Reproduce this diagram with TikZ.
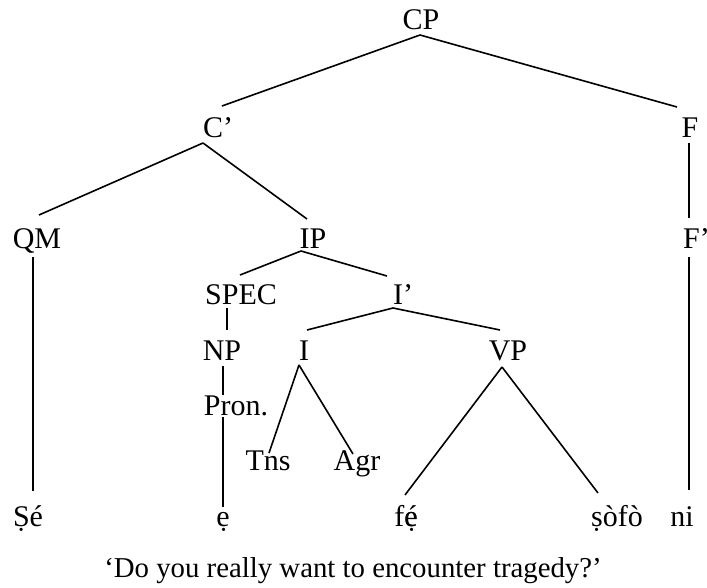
\documentclass[tikz,border=0pt]{standalone}
\usepackage{fontspec}
\setmainfont{Liberation Serif}
\usetikzlibrary{calc}
% e with both an acute and a dot below, built by overlaying é and ẹ
\newcommand{\eacdot}{\ooalign{ẹ\cr é\cr}}
\tikzset{
  lbl/.style={anchor=base, inner sep=0pt, font=\fontsize{30}{36}\selectfont},
  glosstext/.style={anchor=base, inner sep=0pt, font=\fontsize{28.8}{35}\selectfont},
  branch/.style={line width=1.6pt, line cap=butt}
}
\begin{document}
\begin{tikzpicture}[x=1pt, y=-1pt]
  \useasboundingbox (0,0) rectangle (707,588);
  % category labels
  \node[lbl] (CP) at (421,30) {CP};
  \node[lbl] (Cb) at (218,138) {C’};
  \node[lbl] (F) at (690,138) {F};
  \node[lbl] (QM) at (37,249) {QM};
  \node[lbl] (IP) at (313,249) {IP};
  \node[lbl, anchor=base west] (Fb) at (683,249) {F’};
  \node[lbl] (SPEC) at (241,305) {SPEC};
  \node[lbl] (Ib) at (403,305) {I’};
  \node[lbl] (NP) at (222,360) {NP};
  \node[lbl] (I) at (304,360) {I};
  \node[lbl] (VP) at (508,360) {VP};
  \node[lbl] (Pron) at (236,415) {Pron.};
  \node[lbl] (Tns) at (268,470) {Tns};
  \node[lbl] (Agr) at (357,470) {Agr};
  % terminal words
  \node[lbl] (Se) at (28,526) {Ṣé};
  \node[lbl] (e) at (223,526) {ẹ};
  \node[lbl] (fe) at (406,526) {f\eacdot};
  \node[lbl] (sofo) at (617,526) {ṣòfò};
  \node[lbl] (ni) at (682,526) {ni};
  % gloss
  \node[glosstext] (gloss) at (353,577) {‘Do you really want to encounter tragedy?’};
  % branches
  \draw[branch] ($(CP.base)+(-1,5)$) -- ($(Cb.base)+(4,-32)$);
  \draw[branch] ($(CP.base)+(-1,5)$) -- ($(F.base)+(-13,-31)$);
  \draw[branch] ($(Cb.base)+(-15,5)$) -- ($(QM.base)+(2,-34)$);
  \draw[branch] ($(Cb.base)+(-15,5)$) -- ($(IP.base)+(-6,-30)$);
  \draw[branch] ($(F.base)+(-1,5)$) -- ($(Fb.base west)+(6,-31)$);
  \draw[branch] ($(Fb.base west)+(6,8)$) -- ($(ni.base)+(7,-36)$);
  \draw[branch] ($(QM.base)+(-4,8)$) -- ($(Se.base)+(5,-35)$);
  \draw[branch] ($(IP.base)+(-12,2)$) -- ($(SPEC.base)+(-1,-30)$);
  \draw[branch] ($(IP.base)+(-12,2)$) -- ($(Ib.base)+(-16,-29)$);
  \draw[branch] ($(Ib.base)+(-10,3)$) -- ($(I.base)+(3,-30)$);
  \draw[branch] ($(Ib.base)+(-10,3)$) -- ($(VP.base)+(-8,-30)$);
  \draw[branch] ($(SPEC.base)+(-14,3)$) -- ($(NP.base)+(5,-30)$);
  \draw[branch] ($(NP.base)+(1,6)$) -- ($(Pron.base)+(-13,-20)$);
  \draw[branch] ($(Pron.base)+(-13,2)$) -- ($(e.base)+(0,-19)$);
  \draw[branch] ($(I.base)+(-5,5)$) -- ($(Tns.base)+(1,-17)$);
  \draw[branch] ($(I.base)+(-5,5)$) -- ($(Agr.base)+(-4,-16)$);
  \draw[branch] ($(VP.base)+(-6,7)$) -- ($(fe.base)+(-1,-31)$);
  \draw[branch] ($(VP.base)+(-6,7)$) -- ($(sofo.base)+(-19,-33)$);
\end{tikzpicture}
\end{document}
